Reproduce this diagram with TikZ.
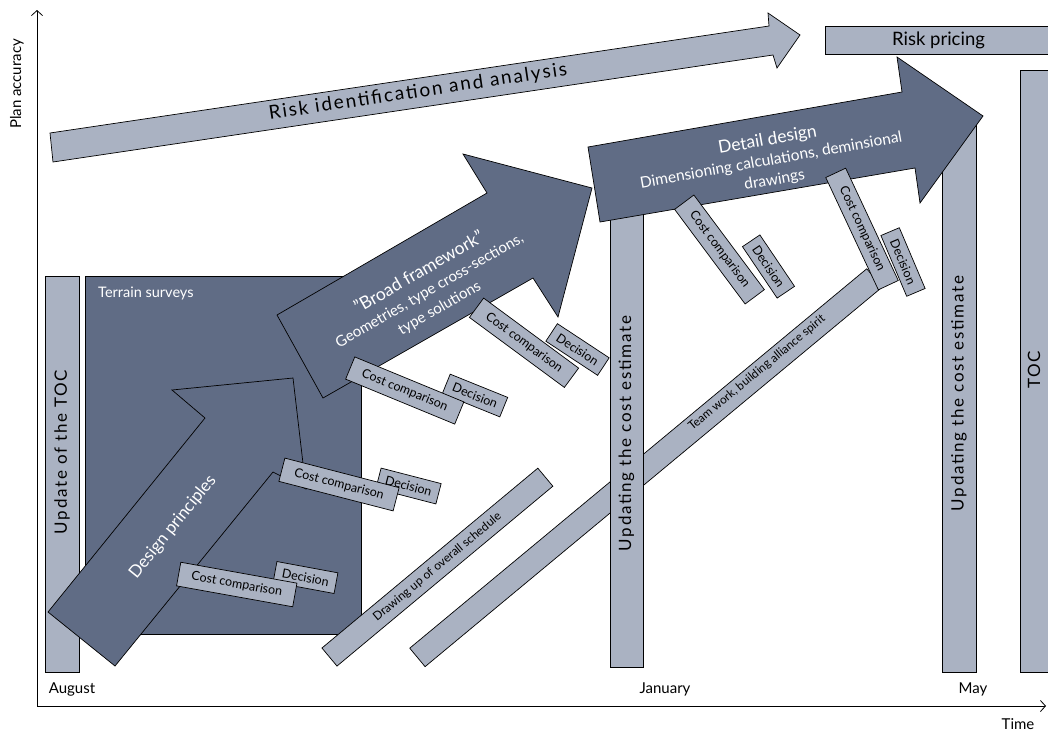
\documentclass[tikz,border=0pt]{standalone}
\usepackage{fontspec}
\setmainfont{Lato}
\newfontfamily\spaced[LetterSpace=10]{Lato}
\usetikzlibrary{arrows.meta}
\definecolor{dk}{RGB}{96,108,133}
\definecolor{lt}{RGB}{170,178,194}
\begin{document}
\begin{tikzpicture}[x=1pt,y=-1pt,
  ol/.style={draw=black, line width=0.7pt, line join=miter},
  darkshape/.style={ol, fill=dk},
  lightshape/.style={ol, fill=lt, inner sep=0pt},
  small/.style={font=\fontsize{12.5}{14}\selectfont},
  cbox/.style={lightshape, small, minimum width=118pt, minimum height=24pt},
  dbox/.style={lightshape, small, minimum width=62pt, minimum height=21pt},
  wtext/.style={text=white, inner sep=0pt, align=center},
  axisline/.style={line width=0.8pt, -{Straight Barb[length=5pt,width=11pt]}},
  lab/.style={font=\fontsize{15}{18}\selectfont, inner sep=0pt}
]
\useasboundingbox (0,0) rectangle (1048,734);

% axes
\coordinate (O) at (37,706);
\coordinate (Ytip) at (37,10);
\coordinate (Xtip) at (1046,706);
\draw[axisline] (O) -- (Ytip);
\draw[axisline] (O) -- (Xtip);
\node[lab, rotate=90] (ylab) at (17,84) {Plan accuracy};
\node[lab] (xlab) at (1018,724) {Time};
\node[lab] (aug) at (72,689) {August};
\node[lab] (jan) at (665,689) {January};
\node[lab] (may) at (973,689) {May};

% Update of the TOC
\node[lightshape, minimum width=34pt, minimum height=396pt] (utoc) at (62,474) {};
\node[rotate=90, inner sep=0pt, font=\spaced\fontsize{17}{20}\selectfont] (utoct) at (62,452) {Update of the TOC};

% Terrain surveys
\node[darkshape, inner sep=0pt, minimum width=276pt, minimum height=358pt] (terrain) at (223,455) {};
\node[wtext, anchor=west, font=\fontsize{14.5}{16}\selectfont] (terraint) at (98,293) {Terrain surveys};

% Design principles arrow
\draw[darkshape] (48,612) -- (205,418) -- (172,390) -- (293,378) -- (306,489) -- (273,472) -- (115,666) -- cycle;
\node[wtext, rotate=51, font=\fontsize{17}{19}\selectfont] (dpt) at (173,527) {Design principles};

% Broad framework arrow
\draw[darkshape] (277,315) -- (487,193) -- (463,154) -- (592,188) -- (558,317) -- (533,278) -- (323,398) -- cycle;
\node[wtext, rotate=30, font=\fontsize{15}{20}\selectfont] (bft) at (429,290)
  {{\fontsize{17.5}{20}\selectfont ''Broad framework''}\\Geometries, type cross-sections,\\type solutions};

% Drawing up of overall schedule
\node[lightshape, rotate=39.8, font=\fontsize{12}{14}\selectfont, minimum width=281pt, minimum height=23.5pt] (sched) at (437.4,567.1) {Drawing up of overall schedule};

% Team work bar
\node[lightshape, rotate=39.7, minimum width=594pt, minimum height=24pt] (team) at (645.9,467.7) {};
\node[rotate=39.7, inner sep=0pt, font=\fontsize{11.8}{13}\selectfont] (teamt) at (757,373) {Team work, building alliance spirit};

% vertical bars
\node[lightshape, rotate=90, minimum width=467pt, minimum height=33pt, font=\spaced\fontsize{17}{20}\selectfont] (janbar) at (626.5,433.5) {Updating the cost estimate};
\node[lightshape, rotate=90, minimum width=557pt, minimum height=34pt, font=\spaced\fontsize{17}{20}\selectfont] (maybar) at (959,393.5) {Updating the cost estimate};
\node[lightshape, rotate=90, minimum width=602pt, minimum height=32pt] (tocbar) at (1036,371) {};
\node[rotate=90, inner sep=0pt, font=\spaced\fontsize{17}{20}\selectfont] (toct) at (1034,370) {TOC};

% Risk identification arrow
\draw[ol, fill=lt] (50,133) -- (769,26) -- (768,13) -- (800,35) -- (777,68) -- (773,55) -- (53,162) -- cycle;
\node[rotate=8.5, inner sep=0pt, font=\spaced\fontsize{19}{21}\selectfont] (riskt) at (418,92) {Risk identification and analysis};

% Risk pricing
\node[lightshape, minimum width=227pt, minimum height=28pt, font=\fontsize{18.5}{20}\selectfont] (pricing) at (938.5,40) {Risk pricing};

% Detail design arrow
\draw[darkshape] (588,147) -- (902,92) -- (897,57) -- (983,116) -- (920,203) -- (915,168) -- (600,222) -- cycle;
\node[wtext, rotate=10, font=\fontsize{15.5}{20}\selectfont] (ddt) at (771,160)
  {{\fontsize{17.5}{20}\selectfont Detail design}\\Dimensioning calculations, deminsional\\drawings};

% Cost comparison / Decision boxes
\node[dbox, rotate=-10.5] (d1) at (305.5,577.5) {Decision};
\node[cbox, rotate=-10.2] (c1) at (236.75,584.5) {Cost comparison};
\node[dbox, rotate=-14.5] (d2) at (408.5,486) {Decision};
\node[cbox, rotate=-14.5] (c2) at (339,484.5) {Cost comparison};
\node[dbox, rotate=-22] (d3) at (475,395.5) {Decision};
\node[cbox, rotate=-22.4] (c3) at (404.75,390.5) {Cost comparison};
\node[dbox, rotate=-33.4] (d4) at (577.5,349.5) {Decision};
\node[cbox, rotate=-36.4] (c4) at (524,342.75) {Cost comparison};
\node[dbox, rotate=-56] (d5) at (768.5,266.5) {Decision};
\node[cbox, rotate=-53.3] (c5) at (719.5,249.5) {Cost comparison};
\node[dbox, rotate=-67, minimum width=66pt, minimum height=20pt] (d6) at (903,262) {Decision};
\node[cbox, rotate=-64.9, minimum width=124pt, minimum height=22pt] (c6) at (862,229) {Cost comparison};
\end{tikzpicture}
\end{document}
